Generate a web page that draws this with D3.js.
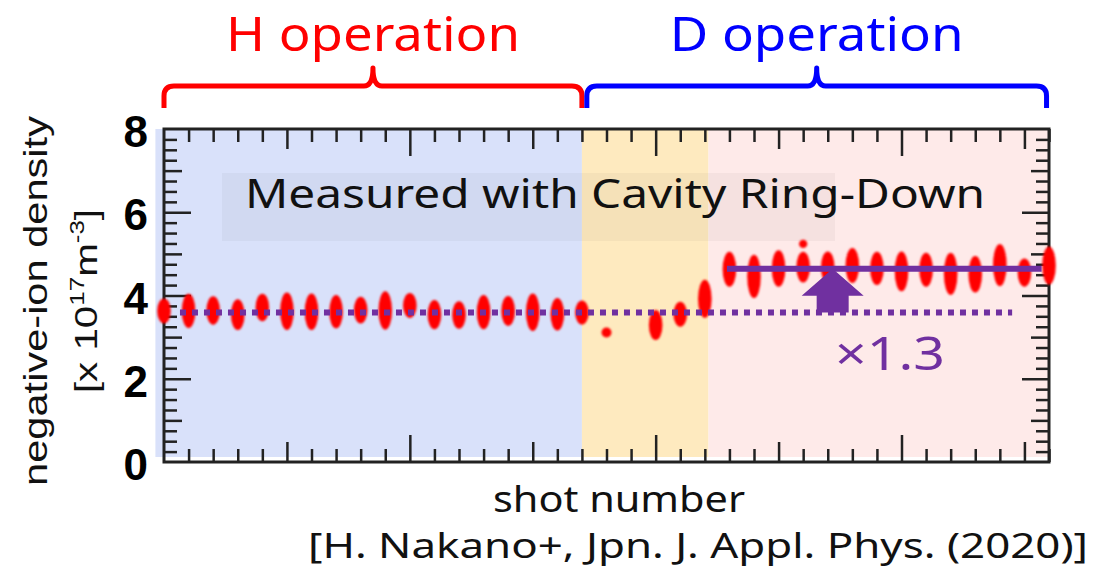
<!DOCTYPE html>
<html>
<head>
<meta charset="utf-8">
<script src="https://cdn.jsdelivr.net/npm/d3@7"></script>
<style>
  body { margin: 0; background: #fff; }
  svg { display: block; }
</style>
</head>
<body>
<svg width="1094" height="568"></svg>
<script>
// shot index along the x axis, measured density and half-height of each blob
var shots   = [0, 1, 2, 3, 4, 5, 6, 7, 8, 9, 10, 11, 12, 13, 14, 15, 16, 17,
               18, 20, 21, 22,
               23, 24, 25, 26, 27, 28, 29, 30, 31, 32, 33, 34, 35, 36];
var density = [3.63, 3.63, 3.64, 3.54, 3.71, 3.62, 3.61, 3.61, 3.65, 3.64, 3.76, 3.54, 3.53, 3.60, 3.63, 3.60, 3.55, 3.59,
               3.11, 3.29, 3.55, 3.92,
               4.63, 4.46, 4.65, 4.68, 4.68, 4.72, 4.65, 4.58, 4.62, 4.52, 4.51, 4.73, 4.55, 4.72];
var spread  = [0.30, 0.41, 0.34, 0.37, 0.33, 0.45, 0.44, 0.40, 0.32, 0.46, 0.30, 0.35, 0.33, 0.41, 0.36, 0.45, 0.39, 0.29,
               0.12, 0.36, 0.30, 0.46,
               0.42, 0.52, 0.44, 0.37, 0.38, 0.42, 0.40, 0.48, 0.41, 0.51, 0.44, 0.51, 0.34, 0.46];
// a stray small point above shot 26
var extraShots = [26];
var extraDensity = [5.24];
var extraSpread = [0.10];

// shaded phases: [start, end]
var phaseNames = ["H", "transition", "D"];
var phaseStart = [-0.35, 17, 22.15];
var phaseEnd   = [17, 22.15, 36];
var phaseColor = ["#d9e1fa", "#feeabf", "#feeae9"];

// brackets over the plot
var bracketLabel = ["H operation", "D operation"];
var bracketStart = [0, 17.2];
var bracketEnd   = [17, 35.9];
var bracketColor = ["#ff0000", "#0000ff"];

// average levels
var hMean = 3.59, hFrom = 0.65, hTo = 34.5;
var dMean = 4.64, dFrom = 22.9, dTo = 35.7;
var arrowShot = 27.2;
var ratioLabel = "\u00d71.3";

var yTickLabels = [0, 2, 4, 6, 8];

var svg = d3.select("svg");

var x = d3.scaleLinear().domain([0, 36]).range([164, 1049]);
var y = d3.scaleLinear().domain([0, 8]).range([462, 129]);

var purple = "#7030a0";
var sans = "'Noto Sans', sans-serif";

var defs = svg.append("defs");
defs.append("filter").attr("id", "soft")
  .append("feGaussianBlur").attr("stdDeviation", 0.9);

// phase backgrounds
svg.append("g").selectAll("rect")
    .data(phaseNames)
  .enter().append("rect")
    .attr("x", function(d, i) { return x(phaseStart[i]); })
    .attr("width", function(d, i) { return x(phaseEnd[i]) - x(phaseStart[i]); })
    .attr("y", y(8))
    .attr("height", y(0.12) - y(8))
    .attr("fill", function(d, i) { return phaseColor[i]; });

// faint box behind the caption
svg.append("rect")
    .attr("x", 222).attr("y", 173)
    .attr("width", 613).attr("height", 68)
    .attr("fill", "#000").attr("opacity", 0.035);

svg.append("text")
    .attr("x", 245).attr("y", 208)
    .style("font-family", sans)
    .style("font-size", "40px")
    .attr("fill", "#111")
    .attr("textLength", 740)
    .attr("lengthAdjust", "spacingAndGlyphs")
    .text("Measured with Cavity Ring-Down");

// axes: ticks pointing inward, three lengths
function ticksBetween(a, b, step) {
  var out = [];
  for (var v = a; v <= b + 1e-9; v += step) out.push(+v.toFixed(4));
  return out;
}
var xMinor = ticksBetween(0, 36, 1).filter(function(v) { return v % 5 !== 0; });
var xMid = [5, 15, 25, 35];
var xMajor = [10, 20, 30];
var yMinor = ticksBetween(0, 8, 0.25).filter(function(v) { return v % 1 !== 0; });
var yMid = [1, 3, 5, 7];
var yMajor = [2, 4, 6];

var axes = svg.append("g").attr("class", "axes");

function drawTicks(axisFn, values, size, tr) {
  var g = axes.append("g")
      .attr("transform", tr)
      .call(axisFn.tickValues(values).tickSize(-size).tickFormat(""));
  g.select(".domain").remove();
  g.selectAll(".tick line").attr("stroke", "#222").attr("stroke-width", 2.5);
}

[[xMinor, 13], [xMid, 20], [xMajor, 27]].forEach(function(t) {
  drawTicks(d3.axisBottom(x), t[0], t[1], "translate(0," + y(0) + ")");
  drawTicks(d3.axisTop(x), t[0], t[1], "translate(0," + y(8) + ")");
});
[[yMinor, 13], [yMid, 18], [yMajor, 27]].forEach(function(t) {
  drawTicks(d3.axisLeft(y), t[0], t[1], "translate(" + x(0) + ",0)");
  drawTicks(d3.axisRight(y), t[0], t[1], "translate(" + x(36) + ",0)");
});

axes.append("rect")
    .attr("x", x(0)).attr("y", y(8))
    .attr("width", x(36) - x(0)).attr("height", y(0) - y(8))
    .attr("fill", "none")
    .attr("stroke", "#222")
    .attr("stroke-width", 3);

var yLabels = svg.append("g")
    .attr("transform", "translate(" + (x(0) - 16) + ",0)")
    .call(d3.axisLeft(y).tickValues(yTickLabels).tickSize(0).tickPadding(0));
yLabels.select(".domain").remove();
yLabels.selectAll("text")
    .attr("dy", "0.4em")
    .style("font-family", "'Liberation Sans', Arial, sans-serif")
    .style("font-weight", "bold")
    .style("font-size", "44px")
    .attr("fill", "#000");

// axis titles
var yTitle = svg.append("g")
    .style("font-family", "'Liberation Sans', Arial, sans-serif")
    .attr("fill", "#111");
yTitle.append("text")
    .attr("transform", "translate(47,301) rotate(-90) scale(1.28,1)")
    .attr("text-anchor", "middle")
    .style("font-size", "32.5px")
    .text("negative-ion density");
var unit = yTitle.append("text")
    .attr("transform", "translate(97,301) rotate(-90) scale(1.3,1)")
    .attr("text-anchor", "middle")
    .style("font-size", "31px");
unit.append("tspan").text("[x 10");
unit.append("tspan").attr("dy", -13).style("font-size", "20px").text("17");
unit.append("tspan").attr("dy", 13).text("m");
unit.append("tspan").attr("dy", -13).style("font-size", "20px").text("-3");
unit.append("tspan").attr("dy", 13).text("]");

svg.append("text")
    .attr("x", 493).attr("y", 512)
    .style("font-family", sans)
    .style("font-size", "36px")
    .attr("fill", "#111")
    .attr("textLength", 252)
    .attr("lengthAdjust", "spacingAndGlyphs")
    .text("shot number");

svg.append("text")
    .attr("x", 308).attr("y", 558)
    .style("font-family", sans)
    .style("font-size", "34px")
    .attr("fill", "#111")
    .attr("textLength", 780)
    .attr("lengthAdjust", "spacingAndGlyphs")
    .text("[H. Nakano+, Jpn. J. Appl. Phys. (2020)]");

// brackets
var brackets = svg.append("g");
bracketLabel.forEach(function(label, i) {
  var x0 = x(bracketStart[i]), x1 = x(bracketEnd[i]), xm = (x0 + x1) / 2;
  var top = 86, foot = 108, peak = 68;
  var path = "M" + x0 + "," + foot + " L" + x0 + "," + (top + 10) +
    " Q" + x0 + "," + top + " " + (x0 + 10) + "," + top +
    " L" + (xm - 9) + "," + top +
    " Q" + xm + "," + top + " " + xm + "," + peak +
    " Q" + xm + "," + top + " " + (xm + 9) + "," + top +
    " L" + (x1 - 10) + "," + top +
    " Q" + x1 + "," + top + " " + x1 + "," + (top + 10) +
    " L" + x1 + "," + foot;
  brackets.append("path")
      .attr("d", path)
      .attr("fill", "none")
      .attr("stroke", bracketColor[i])
      .attr("stroke-width", 5)
      .attr("stroke-linejoin", "round");
  brackets.append("text")
      .attr("x", xm - 147).attr("y", 51)
      .style("font-family", sans)
      .style("font-size", "48px")
      .attr("fill", bracketColor[i])
      .attr("textLength", 294)
      .attr("lengthAdjust", "spacingAndGlyphs")
      .text(label);
});

// data blobs
var pts = svg.append("g").attr("filter", "url(#soft)");
function blobs(xs, ys, es) {
  pts.selectAll(null)
      .data(xs)
    .enter().append("ellipse")
      .attr("cx", function(d) { return x(d); })
      .attr("cy", function(d, i) { return y(ys[i]); })
      .attr("rx", function(d, i) { return Math.min(6.8, y(0) - y(es[i])); })
      .attr("ry", function(d, i) { return y(0) - y(es[i]); })
      .attr("fill", "#ff0000");
}
blobs(shots, density, spread);
blobs(extraShots, extraDensity, extraSpread);

// mean levels
svg.append("line")
    .attr("x1", x(hFrom)).attr("x2", x(hTo))
    .attr("y1", y(hMean)).attr("y2", y(hMean))
    .attr("stroke", purple)
    .attr("stroke-width", 6)
    .attr("stroke-dasharray", "6,6");

svg.append("line")
    .attr("x1", x(dFrom)).attr("x2", x(dTo))
    .attr("y1", y(dMean)).attr("y2", y(dMean))
    .attr("stroke", purple)
    .attr("stroke-width", 6);

// block arrow from H level up to D level
var ax = x(arrowShot), aTop = y(dMean), aBot = y(hMean);
var headH = 27, headW = 31, shaftW = 16;
svg.append("path")
    .attr("d", "M" + ax + "," + aTop +
      " L" + (ax + headW) + "," + (aTop + headH) +
      " L" + (ax + shaftW) + "," + (aTop + headH) +
      " L" + (ax + shaftW) + "," + aBot +
      " L" + (ax - shaftW) + "," + aBot +
      " L" + (ax - shaftW) + "," + (aTop + headH) +
      " L" + (ax - headW) + "," + (aTop + headH) + " Z")
    .attr("fill", purple);

svg.append("text")
    .attr("x", 835).attr("y", 370)
    .style("font-family", sans)
    .style("font-size", "46px")
    .attr("fill", purple)
    .attr("textLength", 110)
    .attr("lengthAdjust", "spacingAndGlyphs")
    .text(ratioLabel);
</script>
</body>
</html>
